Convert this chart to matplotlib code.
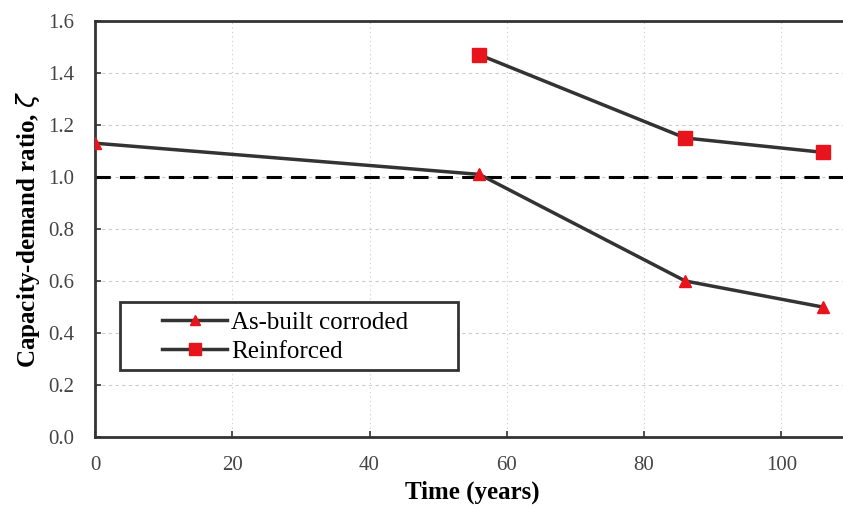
import matplotlib
matplotlib.use("Agg")
import matplotlib.pyplot as plt
from matplotlib.patches import Rectangle

plt.rcParams['font.family'] = ['Liberation Serif', 'DejaVu Serif']

asbuilt_t = [0, 56, 86, 106]
asbuilt_r = [1.13, 1.01, 0.60, 0.50]
reinf_t = [56, 86, 106]
reinf_r = [1.47, 1.15, 1.095]
xticks = [0, 20, 40, 60, 80, 100]
yticks = [0.0, 0.2, 0.4, 0.6, 0.8, 1.0, 1.2, 1.4, 1.6]

fig = plt.figure(figsize=(8.43, 5.11), dpi=100)
ax = fig.add_axes([95/843, 74/511, 755/843, 416/511])

ax.grid(True, axis='y', color='#cccccc', linestyle=(0, (3, 3)), linewidth=0.8)
ax.grid(True, axis='x', color='#cccccc', linestyle=(0, (1, 3)), linewidth=0.8)
ax.set_axisbelow(True)

ax.axhline(1.0, color='black', linestyle=(0, (5, 3)), linewidth=2.2, zorder=2)
ax.plot(asbuilt_t, asbuilt_r, color='#333333', linewidth=2.5, marker='^',
        markersize=9, markerfacecolor='#e8141c', markeredgecolor='#e8141c',
        label='As-built corroded', zorder=3)
ax.plot(reinf_t, reinf_r, color='#333333', linewidth=2.5, marker='s',
        markersize=10, markerfacecolor='#e8141c', markeredgecolor='#e8141c',
        label='Reinforced', zorder=3)

ax.set_xlim(0, 110)
ax.set_ylim(0, 1.6)
ax.set_xticks(xticks)
ax.set_yticks(yticks)
ax.set_yticklabels([f'{v:.1f}' for v in yticks])
ax.tick_params(direction='in', labelsize=15, length=4, width=1.2, colors='#333333', labelcolor='#444444')
ax.tick_params(axis='y', pad=15)
ax.tick_params(axis='x', pad=14)
for s in ax.spines.values():
    s.set_linewidth(2)
    s.set_color('#333333')

ax.set_xlabel('Time (years)', fontsize=18, fontweight='bold', labelpad=4)
ax.set_ylabel('Capacity-demand ratio, ' + r'$\zeta$', fontsize=18, fontweight='bold', labelpad=4)

leg = ax.legend(loc='center left', bbox_to_anchor=((162-95)/755, (437-337)/416), fontsize=18,
                frameon=False, handlelength=2.6, borderpad=0, labelspacing=0.25,
                handletextpad=0.15, borderaxespad=0, markerscale=0.8)
ax.add_patch(Rectangle(((120-95)/755, (437-370)/416), 338/755, 68/416, transform=ax.transAxes,
                       fill=True, facecolor='white', edgecolor='#333333', linewidth=2, zorder=4))
leg.set_zorder(5)
fig.savefig('out.png', dpi=100)
